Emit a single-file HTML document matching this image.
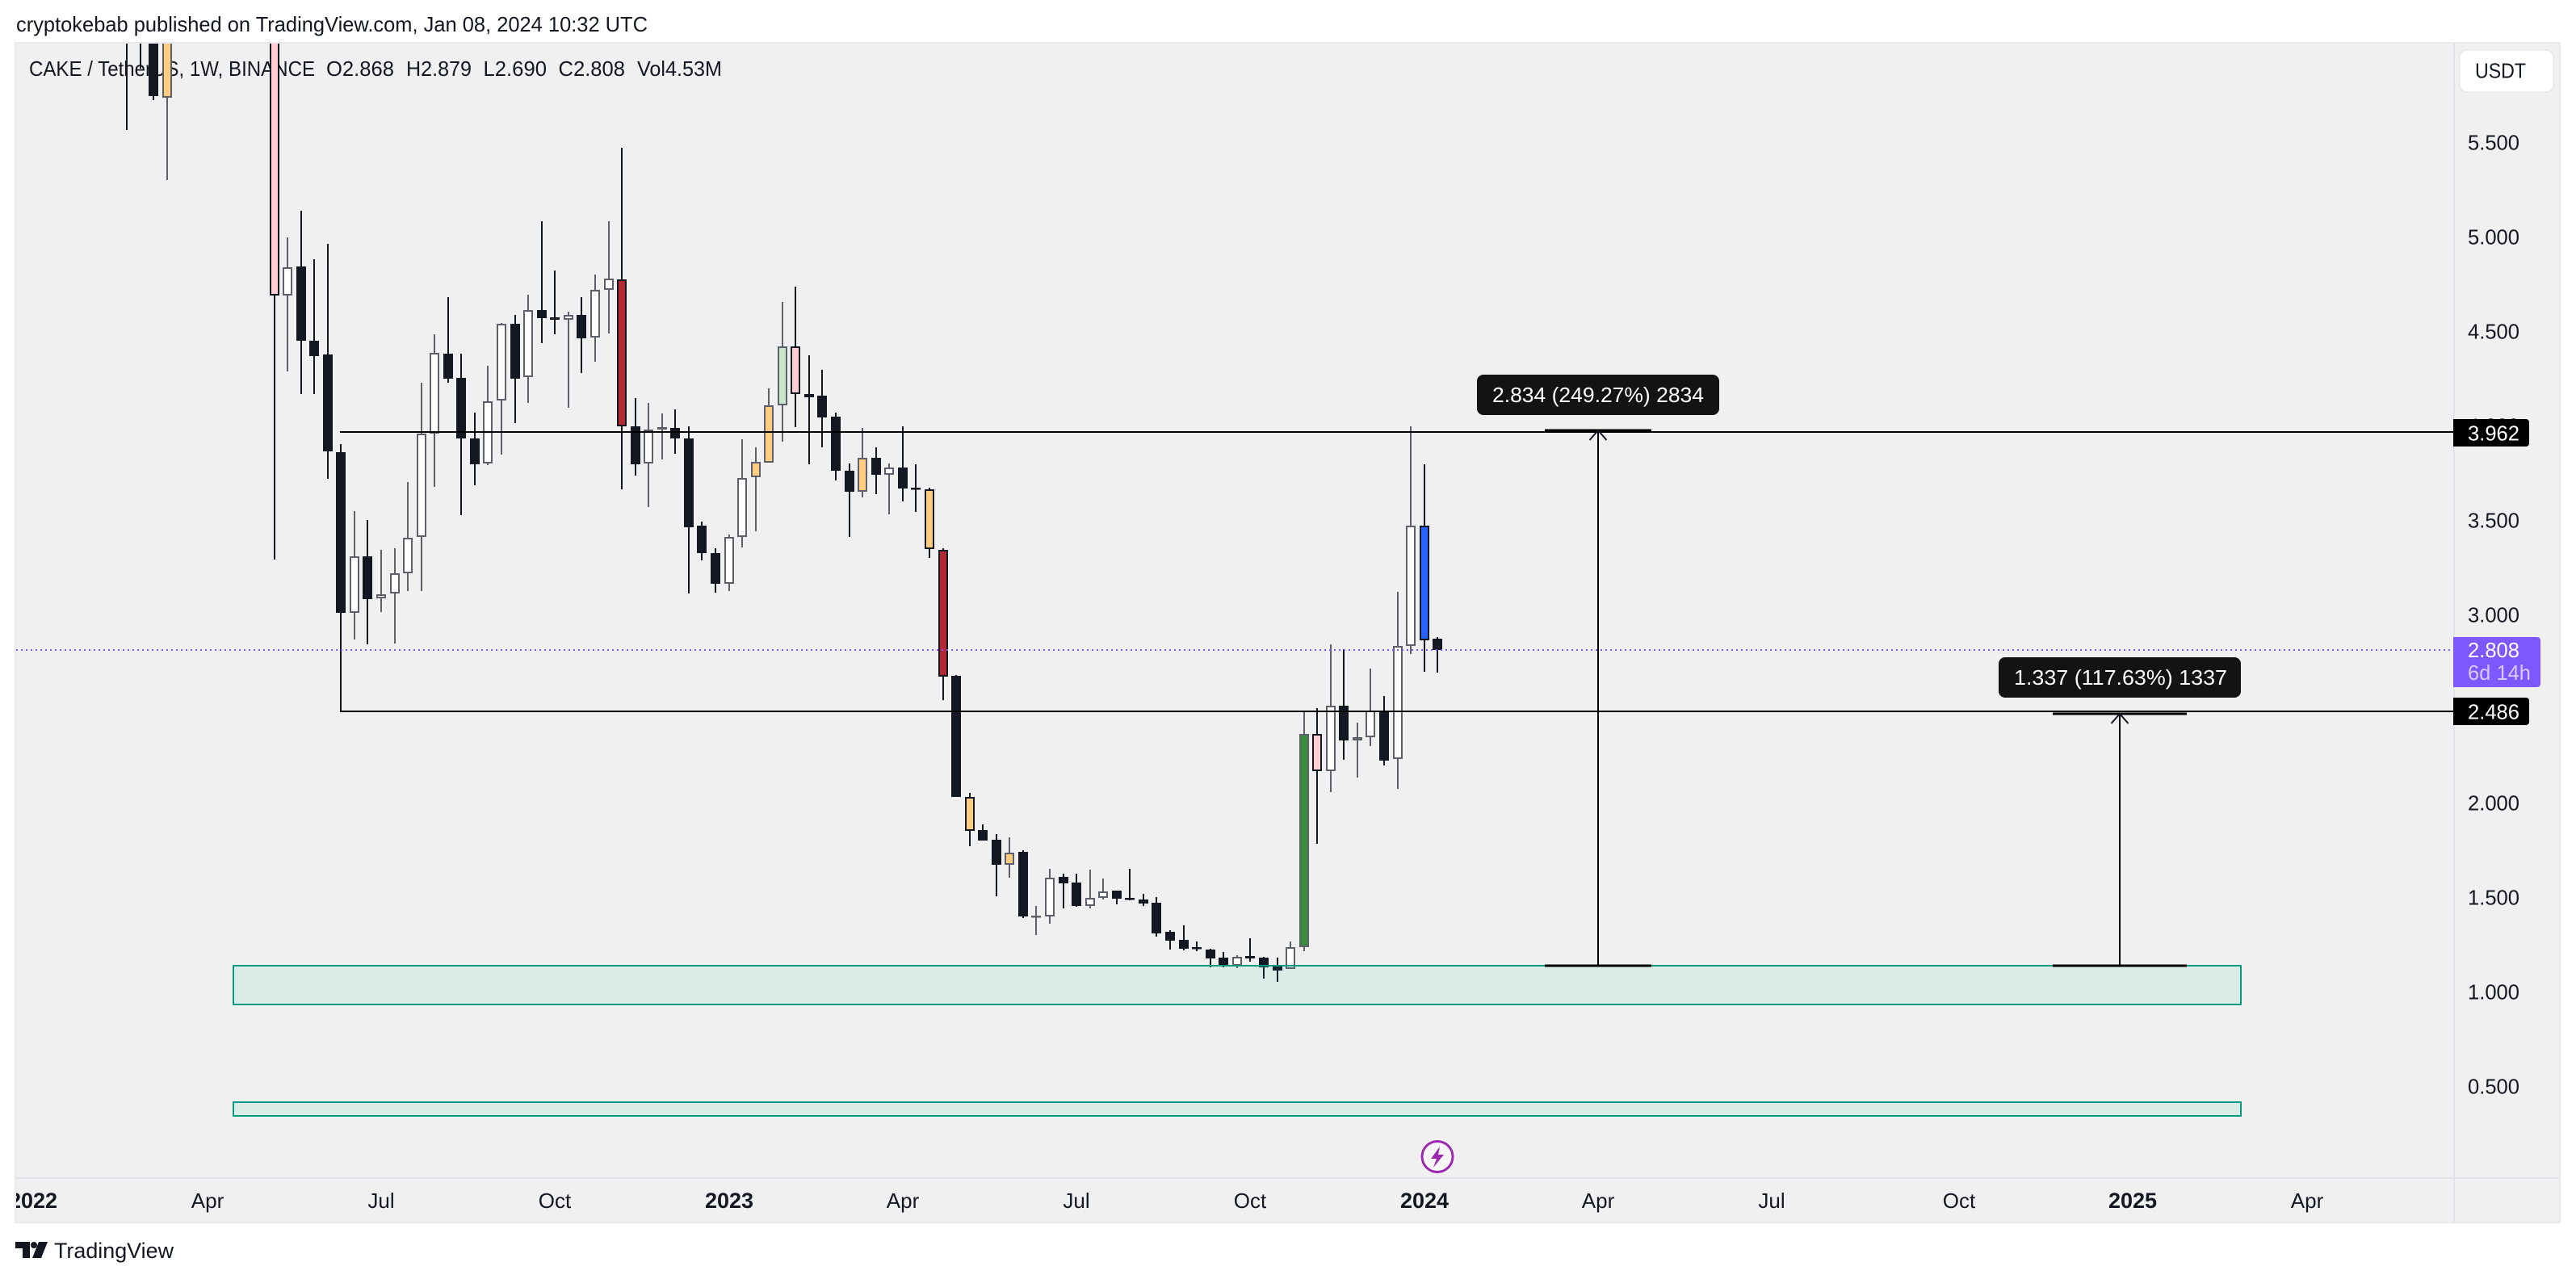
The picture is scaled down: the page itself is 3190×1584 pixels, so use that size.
<!DOCTYPE html>
<html lang="en">
<head>
<meta charset="utf-8">
<title>CAKE / TetherUS weekly chart</title>
<style>
html,body{margin:0;padding:0;background:#fff;}
svg{display:block;font-family:"Liberation Sans",Arial,sans-serif;}
</style>
</head>
<body>
<svg id="chart" xmlns="http://www.w3.org/2000/svg" width="3190" height="1584" viewBox="0 0 3190 1584">
  <defs>
    <clipPath id="pane-clip"><rect x="20" y="54" width="3018" height="1404"/></clipPath>
    <clipPath id="time-clip"><rect x="20" y="1460" width="3018" height="54"/></clipPath>
  </defs>
  <rect x="0" y="0" width="3190" height="1584" fill="#ffffff"/>
  <text x="20" y="39" font-size="26" fill="#131722" textLength="782" lengthAdjust="spacingAndGlyphs">cryptokebab published on TradingView.com, Jan 08, 2024 10:32 UTC</text>
  <rect x="19" y="53" width="3151" height="1461" fill="#f0f0f0" stroke="#e9e9ef" stroke-width="2"/>

  <g font-size="26" fill="#131722">
    <text x="36" y="94" textLength="354" lengthAdjust="spacingAndGlyphs">CAKE / TetherUS, 1W, BINANCE</text>
    <text x="404" y="94" textLength="84" lengthAdjust="spacingAndGlyphs">O2.868</text>
    <text x="503" y="94" textLength="81" lengthAdjust="spacingAndGlyphs">H2.879</text>
    <text x="598.5" y="94" textLength="78.5" lengthAdjust="spacingAndGlyphs">L2.690</text>
    <text x="691.5" y="94" textLength="82.5" lengthAdjust="spacingAndGlyphs">C2.808</text>
    <text x="789" y="94" textLength="105" lengthAdjust="spacingAndGlyphs">Vol4.53M</text>
  </g>

  <g id="candles" clip-path="url(#pane-clip)"></g>
  <g id="zones"></g>
  <g id="levels"></g>
  <g id="rulers"></g>

  <g>
    <rect x="1829" y="464" width="300" height="50" rx="8" fill="#131313"/>
    <text x="1848" y="498" font-size="26" fill="#ffffff" textLength="262" lengthAdjust="spacingAndGlyphs">2.834 (249.27%) 2834</text>
  </g>
  <g>
    <rect x="2475" y="814" width="300" height="50" rx="8" fill="#131313"/>
    <text x="2494" y="848" font-size="26" fill="#ffffff" textLength="264" lengthAdjust="spacingAndGlyphs">1.337 (117.63%) 1337</text>
  </g>

  <g>
    <circle cx="1780" cy="1432.5" r="21" fill="#ffffff"/>
    <circle cx="1780" cy="1432.5" r="19" fill="#f6f6f6" stroke="#9c27b0" stroke-width="3"/>
    <path d="M1783 1420 L1772 1435 L1779 1435 L1775 1446 L1788 1430 L1781 1430 Z" fill="#9c27b0"/>
  </g>

  <line x1="20" y1="1459" x2="3170" y2="1459" stroke="#e0e3eb" stroke-width="2"/>
  <line x1="3039" y1="54" x2="3039" y2="1514" stroke="#e0e3eb" stroke-width="2"/>

  <g id="time-axis" clip-path="url(#time-clip)"></g>
  <g id="price-axis"></g>

  <g>
    <rect x="3046" y="62" width="116" height="52" rx="9" fill="#ffffff" stroke="#e8e9ef" stroke-width="1.5"/>
    <text x="3065" y="96.5" font-size="26" fill="#131722" textLength="63" lengthAdjust="spacingAndGlyphs">USDT</text>
  </g>

  <g>
    <path d="M3038 519 H3128 a4 4 0 0 1 4 4 V549 a4 4 0 0 1 -4 4 H3038 Z" fill="#000000"/>
    <text x="3056" y="545.5" font-size="26" fill="#ffffff" textLength="64" lengthAdjust="spacingAndGlyphs">3.962</text>
  </g>
  <g>
    <path d="M3038 864 H3128 a4 4 0 0 1 4 4 V894 a4 4 0 0 1 -4 4 H3038 Z" fill="#000000"/>
    <text x="3056" y="890.5" font-size="26" fill="#ffffff" textLength="64" lengthAdjust="spacingAndGlyphs">2.486</text>
  </g>
  <g>
    <path d="M3038 789 H3142 a4 4 0 0 1 4 4 V847 a4 4 0 0 1 -4 4 H3038 Z" fill="#7e57ff"/>
    <text x="3056" y="814" font-size="26" fill="#ffffff" textLength="64" lengthAdjust="spacingAndGlyphs">2.808</text>
    <text x="3056" y="842" font-size="26" fill="#d8ccff" textLength="78" lengthAdjust="spacingAndGlyphs">6d 14h</text>
  </g>

  <g>
    <path d="M19 1538 H37 V1558 H28 V1546 H19 Z M48 1538 H59 L51 1558 H40 Z" fill="#131722"/>
    <circle cx="42" cy="1542" r="4" fill="#131722"/>
    <text x="67" y="1558" font-size="27" fill="#131722" textLength="148" lengthAdjust="spacingAndGlyphs">TradingView</text>
  </g>
</svg>

<script>
// ---- data (first bar is week index -11) ----
var firstWeek = -11;
var opens = [
  6.9,7.4,7.2,5.733,6.6,6.9,7.6,8.4,8.1,7.7,7.2,
  6.9,4.685,4.842,4.449,4.373,3.858,3.006,3.304,3.082,3.108,3.217,3.407,3.956,4.379,4.249,3.932,3.797,4.129,
  4.536,4.253,4.611,4.571,4.558,4.586,4.464,4.715,4.772,3.996,3.799,3.976,3.987,3.932,3.470,3.322,3.159,3.408,
  3.724,3.801,4.104,4.417,4.167,4.157,4.047,3.760,3.648,3.829,3.738,3.778,3.669,3.659,3.341,2.671,2.031,1.855,
  1.803,1.674,1.739,1.400,1.400,1.607,1.577,1.454,1.497,1.534,1.499,1.487,1.470,1.316,1.274,1.235,1.222,1.180,
  1.137,1.188,1.180,1.132,1.120,1.236,2.365,2.168,2.516,2.332,2.348,2.491,2.232,2.831,3.469,2.868
];
var highs = [
  7.2,7.8,7.5,6.9,7.3,7.9,9.0,8.9,8.6,8.0,7.5,
  7.2,4.996,5.136,4.877,4.962,3.898,3.544,3.496,3.341,3.350,3.697,4.227,4.480,4.680,4.379,4.068,4.316,4.541,
  4.586,4.689,5.081,4.820,4.600,4.676,4.796,5.081,5.470,4.142,4.116,4.063,4.085,3.996,3.490,3.348,3.423,3.926,
  3.884,4.197,4.653,4.732,4.371,4.295,4.068,3.799,3.984,3.884,3.799,3.995,3.795,3.671,3.350,2.677,2.051,1.885,
  1.833,1.816,1.748,1.453,1.650,1.624,1.624,1.645,1.598,1.534,1.650,1.517,1.500,1.325,1.350,1.265,1.227,1.209,
  1.192,1.282,1.184,1.180,1.265,2.485,2.504,2.841,2.816,2.427,2.713,2.564,3.119,3.995,3.794,2.879
];
var lows = [
  5.564,5.89,5.72,5.296,6.3,6.7,7.3,7.8,7.5,6.9,6.6,
  3.289,4.283,4.166,4.166,3.714,2.486,2.864,2.839,3.010,2.843,3.123,3.123,3.675,4.225,3.525,3.680,3.789,3.843,
  4.009,4.116,4.436,4.480,4.094,4.277,4.338,4.484,3.662,3.732,3.568,3.817,3.850,3.110,3.283,3.115,3.123,3.354,
  3.440,3.801,3.911,3.991,3.791,3.881,3.709,3.409,3.619,3.633,3.530,3.598,3.539,3.299,2.543,2.031,1.769,1.799,
  1.504,1.603,1.389,1.299,1.359,1.440,1.449,1.440,1.487,1.462,1.483,1.453,1.291,1.222,1.218,1.214,1.128,1.128,
  1.124,1.158,1.068,1.051,1.120,1.215,1.783,2.056,2.230,2.133,2.299,2.197,2.073,2.789,2.696,2.690
];
var closes = [
  6.4,6.9,5.741,6.6,6.9,7.6,8.4,8.1,7.7,7.2,6.9,
  4.685,4.837,4.449,4.368,3.860,3.006,3.304,3.080,3.106,3.215,3.405,3.956,4.382,4.246,3.930,3.795,4.126,4.536,
  4.246,4.608,4.569,4.558,4.584,4.462,4.715,4.776,3.993,3.795,3.978,3.989,3.930,3.461,3.322,3.160,3.408,3.720,
  3.806,4.106,4.417,4.165,4.150,4.043,3.757,3.646,3.827,3.736,3.776,3.663,3.665,3.345,2.669,2.031,1.853,1.799,
  1.671,1.737,1.397,1.403,1.604,1.573,1.453,1.497,1.531,1.492,1.493,1.466,1.308,1.269,1.227,1.228,1.175,1.137,
  1.185,1.175,1.128,1.111,1.236,2.367,2.168,2.514,2.330,2.348,2.489,2.226,2.831,3.469,2.860,2.808
];
// painted bars: week index -> colour name
var paintedBars = {
  "-8":"orange","0":"pink","26":"red","36":"orange","37":"orange","38":"mint","39":"pink",
  "44":"orange","49":"orange","50":"red","52":"orange","55":"orange","77":"green","78":"pink","86":"blue"
};
var priceTicks = [5.5,5,4.5,4,3.5,3,2.5,2,1.5,1,0.5];
var timeLabels = ["2022","Apr","Jul","Oct","2023","Apr","Jul","Oct","2024","Apr","Jul","Oct","2025","Apr"];
var timeWeeks  = [-18,-5,8,21,34,47,60,73,86,99,112,126,139,152];
var levelPrices = [3.962,2.486];
var levelStartWeek = 5;
var lastPrice = 2.808;
var zoneTops = [1.137,0.416];
var zoneBottoms = [0.933,0.344];
var zoneStartWeek = -3.02;
var zoneEndWeek = 147.05;
var rulerBases = [1.137,1.137];
var rulerMoves = [2.834,1.337];
var rulerStartWeeks = [95,133];
var rulerEndWeeks = [103,143];

// ---- axis functions ----
function xOf(week){ return Math.round(339.5 + 16.56*week); }
function yOf(price){ return Math.round(760.5 - (price-3)*233.9); }

// ---- helpers ----
var NS = "http://www.w3.org/2000/svg";
function make(tag, attrs, parent){
  var el = document.createElementNS(NS, tag);
  for (var k in attrs) el.setAttribute(k, attrs[k]);
  parent.appendChild(el);
  return el;
}
var COLOURS = {orange:"#ffcc80",pink:"#ffcdd2",red:"#b22833",mint:"#c8e6c9",green:"#388e3c",blue:"#2962ff"};
var DARK = "#131722", GREY = "#5d606b";

// ---- candles ----
var candleLayer = document.getElementById("candles");
opens.forEach(function(open, i){
  var week = firstWeek + i;
  var close = closes[i];
  var up = close >= open;
  var edge = up ? GREY : DARK;
  var fill = paintedBars[week] ? COLOURS[paintedBars[week]] : (up ? "#ffffff" : DARK);
  var x = xOf(week);
  var top = yOf(Math.max(open, close));
  var bottom = yOf(Math.min(open, close));
  var g = make("g", {}, candleLayer);
  
  
  var wick = make("line", {x1:x, x2:x, y1:yOf(highs[i]), y2:yOf(lows[i]), stroke:edge, "stroke-width":2}, g);
  
  
  var body = make("rect", {x:x-5, y:top+1, width:10, height:Math.max(bottom-top-2, 0.5), fill:fill, stroke:edge, "stroke-width":2}, g);
  
  
});

// ---- zones ----
var zoneLayer = document.getElementById("zones");
zoneTops.forEach(function(topPrice, i){
  var r = make("rect", {
    x:xOf(zoneStartWeek), y:yOf(topPrice),
    width:xOf(zoneEndWeek)-xOf(zoneStartWeek), height:yOf(zoneBottoms[i])-yOf(topPrice),
    fill:"rgba(8,190,135,0.09)", stroke:"#089981", "stroke-width":2
  }, zoneLayer);
  
  
});

// ---- horizontal levels ----
var levelLayer = document.getElementById("levels");
levelPrices.forEach(function(price){
  var l = make("line", {x1:xOf(levelStartWeek)-1, x2:3038, y1:yOf(price), y2:yOf(price), stroke:"#000000", "stroke-width":2}, levelLayer);
  
  
});
var lastLine = make("line", {x1:20, x2:3034, y1:yOf(lastPrice), y2:yOf(lastPrice), stroke:"#7e57ff", "stroke-width":2, "stroke-dasharray":"2 4"}, levelLayer);



// ---- price-range rulers ----
var rulerLayer = document.getElementById("rulers");
rulerBases.forEach(function(base, i){
  var x1 = xOf(rulerStartWeeks[i]), x2 = xOf(rulerEndWeeks[i]), mid = Math.round((x1+x2)/2);
  var yBase = yOf(base), yTop = yOf(base + rulerMoves[i]);
  var g = make("g", {}, rulerLayer);
  
  
  make("line", {x1:x1, x2:x2, y1:yBase, y2:yBase, stroke:"#000000", "stroke-width":3}, g);
  make("line", {x1:x1, x2:x2, y1:yTop, y2:yTop, stroke:"#000000", "stroke-width":3}, g);
  make("line", {x1:mid, x2:mid, y1:yTop, y2:yBase, stroke:"#000000", "stroke-width":2}, g);
  make("path", {d:"M"+(mid-10.5)+" "+(yTop+12)+" L"+mid+" "+yTop+" L"+(mid+10.5)+" "+(yTop+12), fill:"none", stroke:"#131722", "stroke-width":2}, g);
});

// ---- axes ----
var priceLayer = document.getElementById("price-axis");
priceTicks.forEach(function(p){
  var t = make("text", {x:3056, y:yOf(p)+9.5, "font-size":26, fill:"#131722", textLength:64, lengthAdjust:"spacingAndGlyphs"}, priceLayer);
  
  
  t.textContent = p.toFixed(3);
});
var timeLayer = document.getElementById("time-axis");
timeLabels.forEach(function(label, i){
  var isYear = /^\d{4}$/.test(label);
  var t = make("text", {x:xOf(timeWeeks[i]), y:1496, "font-size":isYear?27:26, "font-weight":isYear?"700":"400", fill:"#131722", "text-anchor":"middle"}, timeLayer);
  
  
  t.textContent = label;
});
</script>
</body>
</html>
